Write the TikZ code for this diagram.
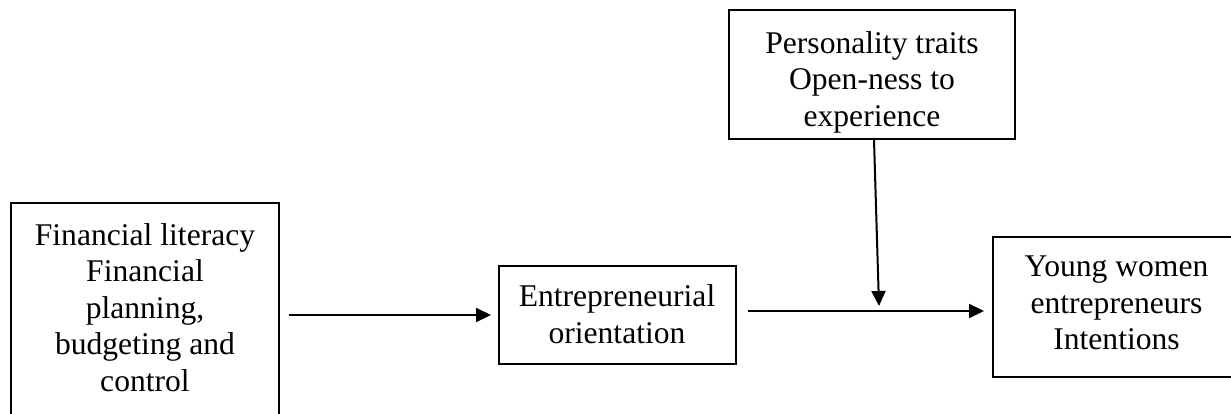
\documentclass[tikz,border=0pt]{standalone}
\usepackage{fontspec}
\setmainfont{Liberation Serif}
\usetikzlibrary{arrows.meta,calc}
\begin{document}
\begin{tikzpicture}[x=1pt,y=-1pt,
  box/.style={draw,line width=2pt,rectangle,inner sep=0pt},
  txt/.style={align=center,inner sep=0pt,font=\fontsize{31.6}{36.5}\selectfont},
  conn/.style={line width=2pt,-{Triangle[length=15pt,width=14pt]}}]
\useasboundingbox[fill=white] (0,0) rectangle (1231,414);
% boxes
\node[box,minimum width=268pt,minimum height=227pt] (lit) at (145,316.5) {};
\node[box,minimum width=286pt,minimum height=129pt] (pers) at (872,74.5) {};
\node[box,minimum width=237pt,minimum height=98pt] (ent) at (617.5,315) {};
\node[box,minimum width=267pt,minimum height=140pt] (yw) at (1126.5,307) {};
% texts
\node[txt] (littxt) at (145,307.5) {Financial literacy\\Financial\\planning,\\budgeting and\\control};
\node[txt] (perstxt) at (872,82.4) {Personality traits\\Open-ness to\\experience};
\node[txt] (enttxt) at (617,314) {Entrepreneurial\\orientation};
\node[txt] (ywtxt) at (1116.5,303) {Young women\\entrepreneurs\\Intentions};
% connectors
\coordinate (m) at (878,311);
\coordinate (mt) at (879,306);
\draw[conn] ($(lit.east |- ent.west)+(9,0)$) -- ([xshift=-7pt]ent.west);
\draw[conn] ($(ent.east |- m)+(11,0)$) -- ($(yw.west |- m)+(-8,0)$);
\draw[conn] ([xshift=2pt]pers.south) -- (mt);
\end{tikzpicture}
\end{document}
